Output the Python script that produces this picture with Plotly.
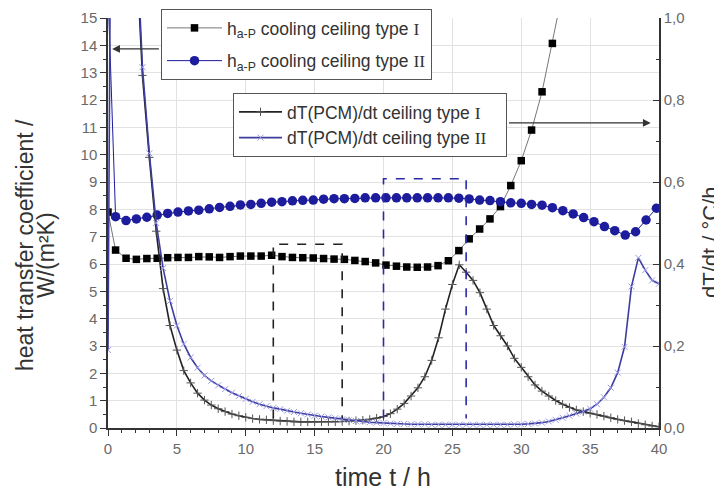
import plotly.graph_objects as go

# ---------------- data ----------------
# heat transfer coefficient samples (time in h); first entry is the off-scale start at t=0
t_h = [0.0, 0.55, 1.31, 2.06, 2.82, 3.57, 4.33, 5.08, 5.84, 6.59, 7.35, 8.10, 8.86, 9.61,
       10.37, 11.12, 11.88, 12.63, 13.39, 14.14, 14.90, 15.65, 16.41, 17.16, 17.92, 18.67,
       19.43, 20.18, 20.94, 21.69, 22.45, 23.20, 23.96, 24.71, 25.47, 26.22, 26.98, 27.73,
       28.49, 29.24, 30.00, 30.75, 31.51, 32.26, 33.02, 33.77, 34.53, 35.28, 36.04, 36.79,
       37.55, 38.30, 39.06, 39.81]

h_type1 = [7.9, 6.51, 6.21, 6.17, 6.20, 6.21, 6.23, 6.24, 6.24, 6.27, 6.26, 6.24, 6.27, 6.29,
           6.29, 6.29, 6.32, 6.27, 6.24, 6.23, 6.22, 6.20, 6.18, 6.17, 6.13, 6.09,
           6.04, 5.96, 5.92, 5.89, 5.88, 5.89, 5.94, 6.12, 6.49, 6.92, 7.28, 7.65,
           8.10, 8.87, 9.78, 10.9, 12.3, 14.07, 16.0]

h_type2 = [16.0, 7.73, 7.59, 7.65, 7.71, 7.79, 7.85, 7.90, 7.94, 7.97, 8.02, 8.07, 8.11, 8.16,
           8.18, 8.22, 8.26, 8.28, 8.31, 8.33, 8.34, 8.37, 8.39, 8.39, 8.40, 8.42,
           8.42, 8.42, 8.42, 8.42, 8.42, 8.42, 8.42, 8.42, 8.41, 8.38, 8.34, 8.32,
           8.28, 8.24, 8.22, 8.18, 8.15, 8.06, 7.95, 7.83, 7.70, 7.55, 7.37, 7.22,
           7.06, 7.18, 7.61, 8.04]

# PCM temperature rate dT/dt (°C/h)
t_rate = [0.0, 0.5, 1.0, 1.5, 2.0, 2.5, 3.0, 3.5, 4.0, 4.5, 5.0, 5.5, 6.0, 6.5, 7.0, 7.5,
          8.0, 8.5, 9.0, 9.5, 10.0, 10.5, 11.0, 11.5, 12.0, 12.5, 13.0, 13.5, 14.0, 14.5,
          15.0, 15.5, 16.0, 16.5, 17.0, 17.5, 18.0, 18.5, 19.0, 19.5, 20.0, 20.5, 21.0,
          21.5, 22.0, 22.5, 23.0, 23.5, 24.0, 24.5, 25.0, 25.5, 26.0, 26.5, 27.0, 27.5,
          28.0, 28.5, 29.0, 29.5, 30.0, 30.5, 31.0, 31.5, 32.0, 32.5, 33.0, 33.5, 34.0,
          34.5, 35.0, 35.5, 36.0, 36.5, 37.0, 37.5, 38.0, 38.5, 39.0, 39.5, 40.0]

rate_type1 = [3.0, 2.6, 2.1, 1.65, 1.2, 0.86, 0.66, 0.48, 0.34, 0.25, 0.19, 0.14, 0.11, 0.085,
              0.068, 0.056, 0.047, 0.040, 0.034, 0.030, 0.026, 0.023, 0.021, 0.020, 0.018,
              0.017, 0.016, 0.015, 0.015, 0.015, 0.015, 0.015, 0.015, 0.015, 0.016, 0.017,
              0.018, 0.019, 0.021, 0.024, 0.028, 0.035, 0.046, 0.060, 0.078, 0.098, 0.125,
              0.165, 0.22, 0.29, 0.35, 0.398, 0.38, 0.36, 0.33, 0.29, 0.25, 0.225, 0.20,
              0.17, 0.148, 0.125, 0.105, 0.090, 0.078, 0.067, 0.058, 0.050, 0.044, 0.040,
              0.036, 0.033, 0.029, 0.025, 0.021, 0.018, 0.015, 0.011, 0.008, 0.005, 0.003]

rate_type2 = [0.19, 3.0, 2.3, 1.75, 1.25, 0.88, 0.67, 0.50, 0.39, 0.31, 0.25, 0.205, 0.172,
              0.147, 0.128, 0.115, 0.104, 0.095, 0.086, 0.078, 0.071, 0.064, 0.058, 0.053,
              0.049, 0.046, 0.042, 0.039, 0.036, 0.033, 0.030, 0.028, 0.026, 0.024, 0.021,
              0.019, 0.017, 0.016, 0.014, 0.013, 0.012, 0.011, 0.010, 0.010, 0.009, 0.009,
              0.009, 0.008, 0.008, 0.008, 0.008, 0.008, 0.008, 0.008, 0.008, 0.008, 0.008,
              0.008, 0.008, 0.009, 0.009, 0.010, 0.011, 0.013, 0.016, 0.020, 0.025, 0.030,
              0.035, 0.040, 0.047, 0.058, 0.075, 0.098, 0.135, 0.198, 0.345, 0.415, 0.385,
              0.36, 0.352]

# marked time windows (h) and their upper bound (W/(m²K))
window1_t = [12, 17]
window1_top = 6.72
window2_t = [20, 26]
window2_top = 9.12

# ---------------- figure ----------------
FONT = "Liberation Sans, Arial, sans-serif"
SER = "<span style='font-family:Liberation Serif, Times New Roman, serif'>"
NAVY = "#1c1c9c"
SLATE = "#3d3d9e"
NB = "\u00a0"

# page body has an 8px default margin; plot area targets x 108-659, y 18-428 in the window
W, H = 714, 484
ML, MR, MT, MB = 100, 63, 10, 64
PW, PH = W - ML - MR, H - MT - MB


def px_x(px):  # window pixel -> paper x
    return (px - 8 - ML) / PW


def px_y(py):  # window pixel -> paper y
    return 1 - (py - 8 - MT) / PH


fig = go.Figure()

fig.add_trace(go.Scatter(
    x=t_h[:len(h_type1)], y=h_type1, mode="lines+markers",
    name="h<sub>a-P</sub> cooling ceiling type " + SER + "I</span>",
    line=dict(color="#777777", width=1),
    marker=dict(symbol="square", size=7.5, color="#000000"),
    legend="legend", legendgroup="a"))

fig.add_trace(go.Scatter(
    x=t_h, y=h_type2, mode="lines+markers",
    name="h<sub>a-P</sub> cooling ceiling type " + SER + "II</span>",
    line=dict(color=NAVY, width=1),
    marker=dict(symbol="circle", size=9.5, color=NAVY),
    legend="legend", legendgroup="b"))

fig.add_trace(go.Scatter(
    x=t_rate, y=rate_type1, yaxis="y2", mode="lines+markers",
    name="dT(PCM)/dt ceiling type " + SER + "I</span>",
    line=dict(color="#222222", width=1.6),
    marker=dict(symbol="cross-thin", size=6, line=dict(color="#555555", width=1)),
    legend="legend2", legendgroup="c"))

fig.add_trace(go.Scatter(
    x=t_rate, y=rate_type2, yaxis="y2", mode="lines+markers",
    name="dT(PCM)/dt ceiling type " + SER + "II</span>" + NB * 3,
    line=dict(color=SLATE, width=1.6),
    marker=dict(symbol="x-thin", size=6, line=dict(color="#9a9ae6", width=1)),
    legend="legend2", legendgroup="d"))

shapes = []
for (ta, tb), top, col in [(window1_t, window1_top, "#222222"), (window2_t, window2_top, "#2a2aa8")]:
    shapes.append(dict(type="path", xref="x", yref="y",
                       path=f"M {ta},0.35 L {ta},{top} L {tb},{top} L {tb},0.35",
                       line=dict(color=col, width=1.6, dash="dash")))

TITLE_FONT = dict(family=FONT, color="#333333")
annotations = [
    dict(x=0.3, y=13.87, ax=3.8, ay=13.87, xref="x", yref="y", axref="x", ayref="y",
         text="", showarrow=True, arrowhead=2, arrowsize=1.2, arrowwidth=1.3, arrowcolor="#333333"),
    dict(x=39.4, y=11.16, ax=29.0, ay=11.16, xref="x", yref="y", axref="x", ayref="y",
         text="", showarrow=True, arrowhead=2, arrowsize=1.2, arrowwidth=1.3, arrowcolor="#333333"),
    # axis titles
    dict(text="heat transfer coefficient /", xref="paper", yref="paper",
         x=px_x(25), y=px_y(245), textangle=-90, showarrow=False,
         xanchor="center", yanchor="middle", font=dict(size=23, **TITLE_FONT)),
    dict(text="W/(m²K)", xref="paper", yref="paper",
         x=px_x(46), y=px_y(255), textangle=-90, showarrow=False,
         xanchor="center", yanchor="middle", font=dict(size=23, **TITLE_FONT)),
    dict(text="time t / h", xref="paper", yref="paper",
         x=px_x(383), y=px_y(477), showarrow=False,
         xanchor="center", yanchor="middle", font=dict(size=25, **TITLE_FONT)),
    dict(text="dT/dt / °C/h", xref="paper", yref="paper",
         x=px_x(710), y=px_y(242), textangle=-90, showarrow=False,
         xanchor="center", yanchor="middle", font=dict(size=22, **TITLE_FONT)),
]

axis_common = dict(showline=True, linecolor="#333333", linewidth=1.5, zeroline=False,
                   automargin=False, tickcolor="#333333",
                   tickfont=dict(size=15, color="#6a6a6a", family=FONT))

fig.update_layout(
    width=W, height=H,
    margin=dict(l=ML, r=MR, t=MT, b=MB, autoexpand=False),
    paper_bgcolor="white", plot_bgcolor="white",
    font=dict(family=FONT, color="#333333"),
    separators=",.",
    xaxis=dict(range=[0, 40], dtick=5, tick0=0, ticks="outside", ticklen=6,
               showgrid=True, gridcolor="#e2e2e2", gridwidth=1,
               minor=dict(dtick=1, ticks="outside", ticklen=3, tickcolor="#333333", showgrid=False),
               **axis_common),
    yaxis=dict(range=[0, 15], dtick=1, tick0=0, ticks="outside", ticklen=6,
               showgrid=True, gridcolor="#e2e2e2", gridwidth=1,
               minor=dict(dtick=0.5, ticks="outside", ticklen=3, tickcolor="#333333", showgrid=False),
               **axis_common),
    yaxis2=dict(range=[0, 1], dtick=0.2, tick0=0, tickformat=".1f", overlaying="y", side="right",
                ticks="inside", ticklen=6, showgrid=False,
                minor=dict(dtick=0.1, ticks="inside", ticklen=3, tickcolor="#333333"),
                **axis_common),
    legend=dict(x=px_x(161), y=px_y(9), xanchor="left", yanchor="top", bgcolor="white",
                bordercolor="#555555", borderwidth=1, tracegroupgap=7, itemwidth=55,
                font=dict(size=17.5, color="#333333", family=FONT)),
    legend2=dict(x=px_x(233), y=px_y(93), xanchor="left", yanchor="top", bgcolor="white",
                 bordercolor="#555555", borderwidth=1, tracegroupgap=0, itemwidth=43,
                 font=dict(size=17.5, color="#333333", family=FONT)),
    shapes=shapes,
    annotations=annotations,
)

fig.write_html("out.html")
